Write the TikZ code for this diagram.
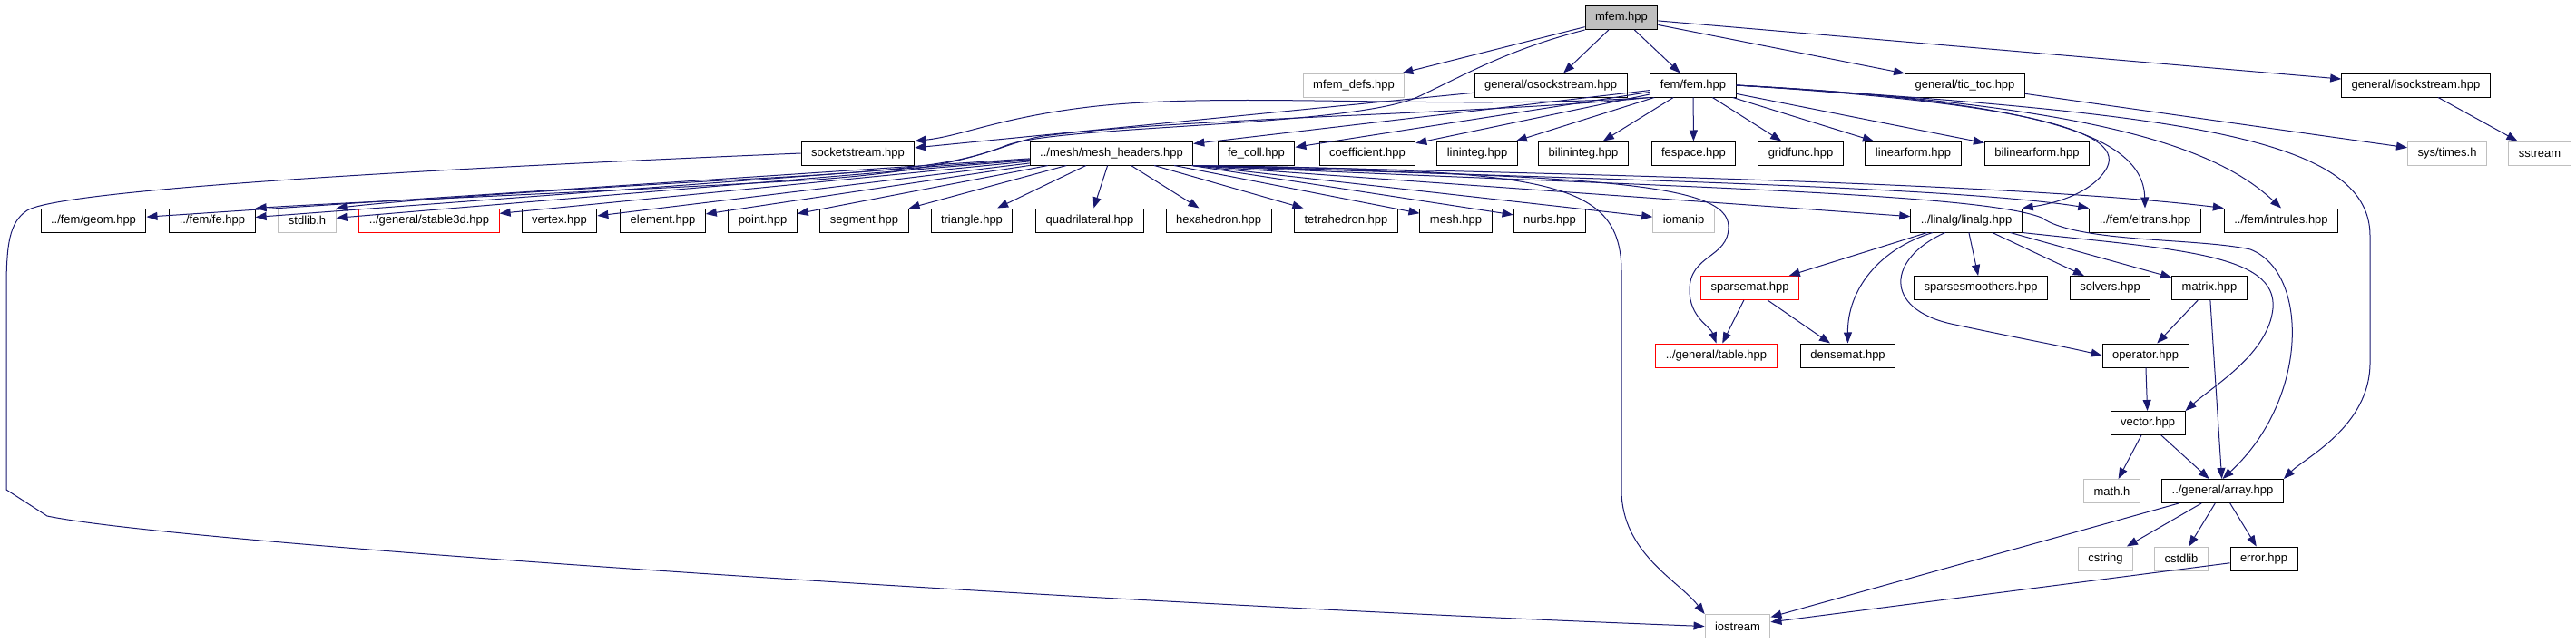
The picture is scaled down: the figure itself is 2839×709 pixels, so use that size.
\documentclass[tikz,border=0pt]{standalone}
\usepackage{fontspec}
\setmainfont{Liberation Sans}
\usetikzlibrary{arrows.meta}
\definecolor{edge}{HTML}{191970}
\definecolor{ghost}{HTML}{BFBFBF}
\definecolor{miss}{HTML}{FF0000}
\tikzset{
  hdr/.style={draw=black,line width=1pt,inner xsep=11pt,inner ysep=0pt,
              minimum height=26pt,font=\fontsize{13}{15}\selectfont},
  sysbox/.style={hdr,draw=ghost},
  partbox/.style={hdr,draw=miss},
  rootbox/.style={hdr,fill=ghost},
  dep/.style={draw=edge,line width=1pt,-{Triangle[length=12pt,width=9pt]}},
}
\begin{document}
\begin{tikzpicture}[x=1pt,y=-1pt]
\useasboundingbox (0,0) rectangle (2839,709);
% top
\node[rootbox] (mfem) at (1787,19.5) {mfem.hpp};
% second row
\node[sysbox] (defs)   at (1492,94)   {mfem\_defs.hpp};
\node[hdr]    (osock)  at (1709,94)   {general/osockstream.hpp};
\node[hdr]    (fem)    at (1866,94)   {fem/fem.hpp};
\node[hdr]    (tictoc) at (2165.5,94) {general/tic\_toc.hpp};
\node[hdr]    (isock)  at (2662.5,94) {general/isockstream.hpp};
% third row
\node[hdr]    (socket)     at (945.5,169)  {socketstream.hpp};
\node[hdr]    (meshh)      at (1225,169)   {../mesh/mesh\_headers.hpp};
\node[hdr]    (fecoll)     at (1384.5,169) {fe\_coll.hpp};
\node[hdr]    (coeff)      at (1507,169)   {coefficient.hpp};
\node[hdr]    (lininteg)   at (1628,169)   {lininteg.hpp};
\node[hdr]    (bilininteg) at (1745,169)   {bilininteg.hpp};
\node[hdr]    (fespace)    at (1866.5,169) {fespace.hpp};
\node[hdr]    (gridfunc)   at (1984.5,169) {gridfunc.hpp};
\node[hdr]    (linform)    at (2108.5,169) {linearform.hpp};
\node[hdr]    (bilinform)  at (2245,169)   {bilinearform.hpp};
\node[sysbox] (times)      at (2697,169)   {sys/times.h};
\node[sysbox] (sstream)    at (2799,169)   {sstream};
% fourth row
\node[hdr]     (geom)     at (103,243)    {../fem/geom.hpp};
\node[hdr]     (fe)       at (234,243)    {../fem/fe.hpp};
\node[sysbox]  (stdlib)   at (338.5,243)  {stdlib.h};
\node[partbox] (stable)   at (473,243)    {../general/stable3d.hpp};
\node[hdr]     (vertex)   at (616.5,243)  {vertex.hpp};
\node[hdr]     (element)  at (730.5,243)  {element.hpp};
\node[hdr]     (point)    at (840.5,243)  {point.hpp};
\node[hdr]     (segment)  at (952.5,243)  {segment.hpp};
\node[hdr]     (triangle) at (1071,243)   {triangle.hpp};
\node[hdr]     (quad)     at (1201,243)   {quadrilateral.hpp};
\node[hdr]     (hexa)     at (1343,243)   {hexahedron.hpp};
\node[hdr]     (tetra)    at (1483.5,243) {tetrahedron.hpp};
\node[hdr]     (mesh)     at (1604.5,243) {mesh.hpp};
\node[hdr]     (nurbs)    at (1708,243)   {nurbs.hpp};
\node[sysbox]  (iomanip)  at (1855.5,243) {iomanip};
\node[hdr]     (linalg)   at (2167,243)   {../linalg/linalg.hpp};
\node[hdr]     (eltrans)  at (2364,243)   {../fem/eltrans.hpp};
\node[hdr]     (intrules) at (2514,243)   {../fem/intrules.hpp};
% linalg part
\node[partbox] (sparse)  at (1928.5,317.5) {sparsemat.hpp};
\node[hdr]     (smooth)  at (2183,317.5)   {sparsesmoothers.hpp};
\node[hdr]     (solvers) at (2325.5,317.5) {solvers.hpp};
\node[hdr]     (matrix)  at (2435,317.5)   {matrix.hpp};
\node[partbox] (table)   at (1891.5,392)   {../general/table.hpp};
\node[hdr]     (dense)   at (2036.5,392)   {densemat.hpp};
\node[hdr]     (oper)    at (2364.5,392)   {operator.hpp};
\node[hdr]     (vector)  at (2367,466.5)   {vector.hpp};
\node[sysbox]  (math)    at (2327.5,541.5) {math.h};
\node[hdr]     (array)   at (2449.5,541.5) {../general/array.hpp};
\node[sysbox]  (cstring) at (2320.5,616)   {cstring};
\node[sysbox]  (cstdlib) at (2404,616)     {cstdlib};
\node[hdr]     (error)   at (2495,616)     {error.hpp};
\node[sysbox]  (iostream) at (1915,690.5)  {iostream};

% includes of mfem.hpp
\foreach \t in {defs,osock,fem,tictoc,isock}
  \draw[dep] (mfem) -- (\t);
\draw[dep] (mfem.south west) .. controls (1660,55) and (1610,85) .. (1560,108)
  .. controls (1480,140) and (1170,138) .. (1110,160)
  .. controls (1060,180) and (1010,187) .. (850,196)
  .. controls (650,207) and (450,220) .. (stdlib.north east);
\draw[dep] (osock) -- (socket);
\draw[dep] (tictoc) -- (times);
\draw[dep] (isock) -- (sstream);

% includes of fem/fem.hpp
\foreach \t in {meshh,fecoll,coeff,lininteg,bilininteg,fespace,gridfunc,linform,bilinform}
  \draw[dep] (fem) -- (\t);
\draw[dep] (fem.south west) .. controls (1600,122) and (1350,100) .. (1200,118)
  .. controls (1100,130) and (1060,150) .. (socket.north east);
\draw[dep] (fem.south west) .. controls (1650,125) and (1300,130) .. (1150,150)
  .. controls (1100,158) and (1080,185) .. (900,198)
  .. controls (700,210) and (400,222) .. (fe.north east);
\draw[dep] (fem.east) .. controls (2200,112) and (2345,140) .. (2322,185)
  .. controls (2305,215) and (2260,225) .. (linalg.north east);
\draw[dep] (fem.east) .. controls (2250,112) and (2362,150) .. (eltrans.north);
\draw[dep] (fem.east) .. controls (2300,115) and (2440,160) .. (intrules.north);
\draw[dep] (fem.east) .. controls (2400,125) and (2612,150) .. (2612,260)
  -- (2612,400) .. controls (2612,470) and (2540,505) .. (array.north east);

% includes of mesh_headers.hpp
\foreach \t in {geom,fe,stdlib,stable,vertex,element,point,segment,triangle,quad,hexa,tetra,mesh,nurbs}
  \draw[dep] (meshh) -- (\t);
\draw[dep] (meshh.south east) -- (iomanip);
\draw[dep] (meshh.south east) -- (linalg);
\draw[dep] (meshh.south east) .. controls (1700,196) and (2150,205) .. (eltrans.north west);
\draw[dep] (meshh.south east) .. controls (1800,192) and (2250,205) .. (intrules.north west);
\draw[dep] (meshh.south east) .. controls (1750,195) and (1905,200) .. (1905,250)
  .. controls (1905,285) and (1862,280) .. (1862,320)
  .. controls (1862,350) and (1885,360) .. (table.north);
\draw[dep] (meshh.south east) .. controls (1700,188) and (1787,195) .. (1787,300)
  -- (1787,540) .. controls (1787,610) and (1850,640) .. (iostream.north west);
\draw[dep] (meshh.south east) .. controls (1800,205) and (2180,212) .. (2250,240)
  .. controls (2290,268) and (2420,262) .. (2480,275)
  .. controls (2545,300) and (2545,440) .. (array.north);

% includes of linalg.hpp
\foreach \t in {sparse,smooth,solvers,matrix}
  \draw[dep] (linalg) -- (\t);
\draw[dep] (linalg.-160) .. controls (2070,275) and (2036,320) .. (dense.north);
\draw[dep] (linalg.-150) .. controls (2080,285) and (2075,340) .. (2150,357)
  .. controls (2220,372) and (2280,383) .. (oper.west);
\draw[dep] (linalg.south east) .. controls (2400,275) and (2510,280) .. (2505,340)
  .. controls (2500,390) and (2440,425) .. (vector.north east);
\draw[dep] (sparse) -- (table);
\draw[dep] (sparse) -- (dense);
\draw[dep] (matrix) -- (oper);
\draw[dep] (matrix) -- (array);
\draw[dep] (oper) -- (vector);
\draw[dep] (vector) -- (math);
\draw[dep] (vector) -- (array);
\foreach \t in {cstring,cstdlib,error,iostream}
  \draw[dep] (array) -- (\t);
\draw[dep] (error) -- (iostream);

% socketstream.hpp round the left side
\draw[dep] (socket.west) .. controls (500,185) and (70,208) .. (30,232)
  .. controls (10,245) and (7,270) .. (7,320) -- (7,540) -- (52,569)
  .. controls (200,600) and (1200,665) .. (iostream.west);
\end{tikzpicture}
\end{document}
